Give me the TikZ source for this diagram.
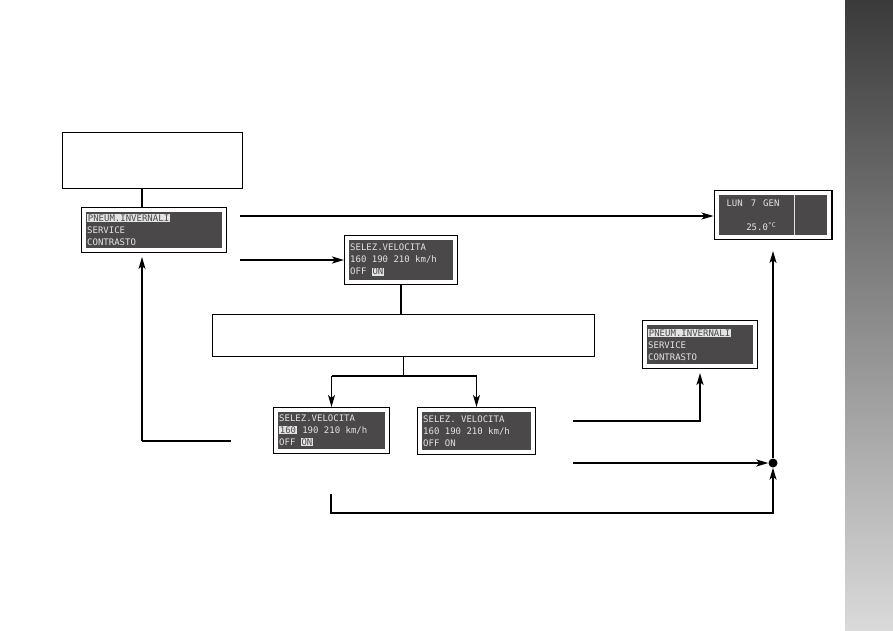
\documentclass[tikz,border=0pt]{standalone}
\usepackage{fontspec}
\usetikzlibrary{arrows.meta}

\newfontfamily\lcdfont{DejaVu Sans Mono}
\definecolor{lcdgray}{HTML}{4A4848}
\definecolor{lcdtext}{HTML}{E4E4E4}
\definecolor{bandtop}{HTML}{3A3A3A}
\definecolor{bandbot}{HTML}{DADADA}
\newcommand{\hl}[1]{{\setlength{\fboxsep}{0.7pt}\colorbox{lcdtext}{\textcolor{lcdgray}{#1}}}}
\newcommand{\gap}{\hspace{0.602em}}
\newcommand{\lcdsize}{\lcdfont\fontsize{9}{12}\selectfont}

\tikzset{
	lcd/.style={fill=lcdgray, draw=white, line width=4pt,
		preaction={draw=black, line width=6.4pt},
		outer sep=3.2pt, inner xsep=3pt, inner ysep=0pt, align=left,
		text=lcdtext, font=\lcdsize},
	box/.style={draw, line width=1pt, fill=white, inner sep=0pt},
	thk/.style={line width=2pt},
	thn/.style={line width=1.2pt},
	dot/.style={circle, fill=black, inner sep=0pt, minimum size=9pt},
	>={Stealth[length=12pt,width=7pt,inset=3pt]}
}

\begin{document}
\begin{tikzpicture}[x=1pt, y=-1pt]
				\useasboundingbox (0,0) rectangle (893,630);
				
				% oldalsáv
				\shade[top color=bandtop, bottom color=bandbot] (845,0) rectangle (893,630);
				
				% dobozok
				\node[box, minimum width=180pt, minimum height=56pt] (top) at (152.5,160.5) {};
				\node[box, minimum width=382pt, minimum height=42pt] (wide) at (403.5,335.5) {};
				
				% kijelzők
				\node[lcd, text width=133.6pt, minimum height=39.6pt] (disp1) at (154,230)
					{\hl{PNEUM.INVERNALI}\\SERVICE\\CONTRASTO};
				\node[lcd, text width=101.6pt, minimum height=43.6pt] (selez) at (401,260)
					{SELEZ.VELOCITA\\160\gap 190\gap 210\gap km/h\\OFF\gap\hl{ON}};
				\node[lcd, minimum width=112.6pt, minimum height=43.6pt] (lun) at (773,215) {};
				\node[lcd, text width=103.6pt, minimum height=42.6pt] (disp2) at (700,344.5)
					{\hl{PNEUM.INVERNALI}\\SERVICE\\CONTRASTO};
				\node[lcd, text width=104.6pt, minimum height=40.6pt] (selL) at (331.5,430.5)
					{SELEZ.VELOCITA\\\hl{160}\gap 190\gap 210\gap km/h\\OFF\gap\hl{ON}};
				\node[lcd, text width=106.6pt, minimum height=41.6pt] (selR) at (476.5,431)
					{SELEZ.\gap VELOCITA\\160\gap 190\gap 210\gap km/h\\OFF\gap ON};
				
				% dátum, hőmérséklet
				\draw[lcdtext, line width=0.8pt] (794,195) -- (794,235);
				\node[text=lcdtext, font=\lcdsize, anchor=base] (lundate) at (753,206.5)
					{LUN\hspace{8pt}7\hspace{7pt}GEN};
				\node[text=lcdtext, font=\lcdsize, anchor=base] (luntemp) at (761,230.5)
					{25.0\raisebox{3pt}{\fontsize{6.5}{6.5}\selectfont °C}};
				
				% csomópont
				\node[dot] (jn) at (773,463) {};
				
				% segédpontok
				\coordinate (col) at (142,0);
				\coordinate (a1) at (240,216);
				\coordinate (a2) at (240,260);
				\coordinate (split) at (403.5,376);
				\coordinate (b1) at (231,441);
				\coordinate (c1) at (573,421);
				\coordinate (c2) at (573,463);
				\coordinate (d1) at (331,494);
				\coordinate (bot) at (331,513);
				
				% vonalak
				\draw[thk] (top.south -| col) -- (disp1.north -| col);
				\draw[thn,->] (a1) -- (a1 -| lun.west);
				\draw[thk,->] (a2) -- (a2 -| selez.west);
				\draw[thk] (selez.south) -- (selez.south |- wide.north);
				
				\draw[thn] (wide.south) -- (split);
				\draw[thk] (split -| selL.north) -- (split -| selR.north);
				\draw[thn,->] (split -| selL.north) -- (selL.north);
				\draw[thn,->] (split -| selR.north) -- (selR.north);
				
				\draw[thk] (b1) -- (b1 -| col);
				\draw[thn,->,shorten >=4pt] (b1 -| col) -- (disp1.south -| col);
				
				\draw[thk,->,shorten >=4pt] (c1) -- (c1 -| disp2.south) -- (disp2.south);
				\draw[thk,->] (c2) -- (jn);
				\draw[thn,->] (d1) -- (bot) -- (bot -| jn) -- (jn);
				\draw[thn,->,shorten >=11pt] (jn) -- (lun.south -| jn);
				
\end{tikzpicture}
\end{document}
